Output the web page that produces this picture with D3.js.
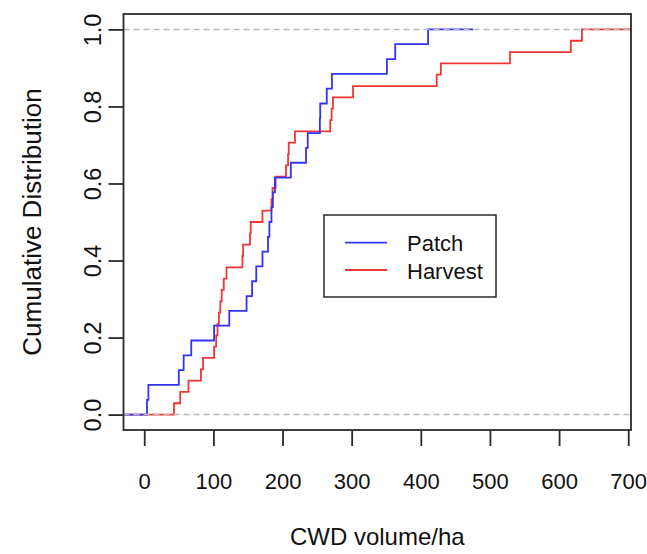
<!DOCTYPE html>
<html>
<head>
<meta charset="utf-8">
<script src="https://cdn.jsdelivr.net/npm/d3@7"></script>
<style>
  html, body { margin: 0; padding: 0; background: #fff; }
  svg { display: block; font-family: "Liberation Sans", Arial, sans-serif; }
</style>
</head>
<body>
<svg id="chart" width="647" height="554"></svg>
<script>
// ---- data ----
const patchValues = [4, 6, 50, 57, 68, 101, 123, 148, 156, 162, 171, 179, 181, 184, 186, 189,
                     212, 234, 236.5, 254, 254.5, 264, 271.5, 351, 363, 410.5];
const harvestValues = [43, 52, 64, 82, 85, 101, 104, 106, 108, 110, 112, 115, 119, 142, 143,
                       153, 154, 171, 184, 185.5, 190, 205, 208, 209, 218, 269, 271, 273, 302,
                       423, 429, 529, 617, 633];
const seriesNames = ["Patch", "Harvest"];
const seriesColors = ["#3333f5", "#f03535"];
const xTicks = [0, 100, 200, 300, 400, 500, 600, 700];
const yTicks = [0, 0.2, 0.4, 0.6, 0.8, 1.0];
const xTitle = "CWD volume/ha";
const yTitle = "Cumulative Distribution";

// ---- layout ----
const W = 647, H = 554;
const plot = { left: 123.5, right: 631, top: 14, bottom: 430 };
const svg = d3.select("#chart");

const x = d3.scaleLinear().domain([-30, 704]).range([plot.left, plot.right]);
const y = d3.scaleLinear().domain([-0.04, 1.04]).range([plot.bottom, plot.top]);

svg.append("defs").append("clipPath").attr("id", "clip")
  .append("rect")
  .attr("x", plot.left).attr("y", plot.top)
  .attr("width", plot.right - plot.left).attr("height", plot.bottom - plot.top);

// ECDF step points, extended like R's plot.stepfun
function ecdfPoints(values) {
  const v = values.slice().sort((a, b) => a - b);
  const n = v.length;
  const diffs = d3.pairs(v).map(([a, b]) => b - a);
  const dr = Math.max(0.08 * (v[n - 1] - v[0]), d3.median(diffs));
  const pts = [[v[0] - 2 * dr, 0]];
  v.forEach((val, i) => pts.push([val, (i + 1) / n]));
  pts.push([v[n - 1] + 2 * dr, 1]);
  return pts;
}

const line = d3.line()
  .x(d => x(d[0]))
  .y(d => y(d[1]))
  .curve(d3.curveStepAfter);

const g = svg.append("g").attr("clip-path", "url(#clip)");
// Harvest drawn first, Patch added on top
[[harvestValues, seriesColors[1]], [patchValues, seriesColors[0]]].forEach(([vals, col]) => {
  g.append("path")
    .attr("d", line(ecdfPoints(vals)))
    .attr("fill", "none")
    .attr("stroke", col)
    .attr("stroke-width", 1.8);
});

// gray dashed 0 / 1 lines
[0, 1].forEach(h => {
  g.append("line")
    .attr("x1", plot.left).attr("x2", plot.right)
    .attr("y1", y(h)).attr("y2", y(h))
    .attr("stroke", "#b8b8b8")
    .attr("stroke-width", 1.5)
    .attr("stroke-dasharray", "6,4");
});

// box
svg.append("rect")
  .attr("x", plot.left).attr("y", plot.top)
  .attr("width", plot.right - plot.left).attr("height", plot.bottom - plot.top)
  .attr("fill", "none").attr("stroke", "#2a2a2a").attr("stroke-width", 1.8);

// x axis
const xAxis = svg.append("g")
  .attr("transform", `translate(0,${plot.bottom})`)
  .call(d3.axisBottom(x).tickValues(xTicks).tickSize(16).tickPadding(27).tickFormat(d3.format("d")));
xAxis.select(".domain").remove();
xAxis.selectAll(".tick line").attr("stroke", "#2a2a2a").attr("stroke-width", 1.8);
xAxis.selectAll(".tick text")
  .attr("fill", "#111")
  .style("font-size", "22px")
  .style("font-family", "'Liberation Sans', Arial, sans-serif");

// y axis
const yAxis = svg.append("g")
  .attr("transform", `translate(${plot.left},0)`)
  .call(d3.axisLeft(y).tickValues(yTicks).tickSize(15).tickFormat(d3.format(".1f")));
yAxis.select(".domain").remove();
yAxis.selectAll(".tick line").attr("stroke", "#2a2a2a").attr("stroke-width", 1.8);
yAxis.selectAll(".tick text")
  .attr("fill", "#111")
  .attr("transform", "rotate(-90)")
  .attr("x", 0)
  .attr("y", -22.5)
  .attr("dy", 0)
  .attr("text-anchor", "middle")
  .style("font-size", "23.5px")
  .style("font-family", "'Liberation Sans', Arial, sans-serif");

// axis titles
svg.append("text")
  .attr("x", (plot.left + plot.right) / 2)
  .attr("y", 545)
  .attr("text-anchor", "middle")
  .attr("fill", "#111")
  .style("font-size", "24px")
  .text(xTitle);

svg.append("text")
  .attr("transform", `translate(41,${(plot.top + plot.bottom) / 2}) rotate(-90)`)
  .attr("text-anchor", "middle")
  .attr("fill", "#111")
  .style("font-size", "26px")
  .text(yTitle);

// legend
const leg = svg.append("g");
leg.append("rect")
  .attr("x", 324).attr("y", 215).attr("width", 172).attr("height", 82)
  .attr("fill", "#fff").attr("stroke", "#2a2a2a").attr("stroke-width", 1.5);
seriesNames.forEach((name, i) => {
  const ly = 242.7 + i * 27.3;
  leg.append("line")
    .attr("x1", 345).attr("x2", 387)
    .attr("y1", ly).attr("y2", ly)
    .attr("stroke", seriesColors[i]).attr("stroke-width", 1.8);
  leg.append("text")
    .attr("x", 407).attr("y", ly + 8.5)
    .attr("fill", "#111")
    .style("font-size", "22px")
    .text(name);
});
</script>
</body>
</html>
